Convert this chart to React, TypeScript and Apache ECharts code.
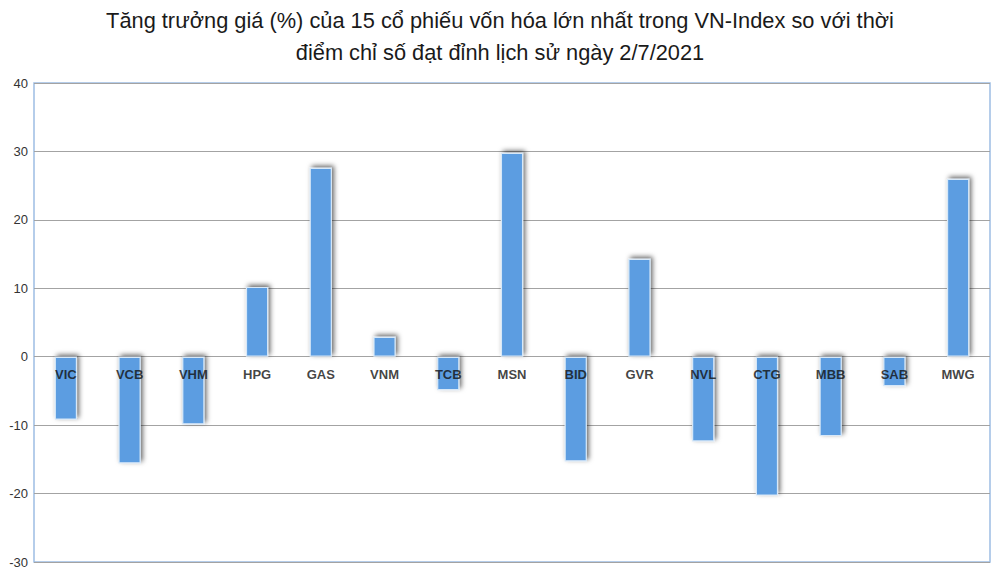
import React, { useEffect, useRef } from 'react';
import * as echarts from 'echarts';

const tickers = ['VIC', 'VCB', 'VHM', 'HPG', 'GAS', 'VNM', 'TCB', 'MSN', 'BID', 'GVR', 'NVL', 'CTG', 'MBB', 'SAB', 'MWG'];
const growth = [-9.2, -15.6, -9.9, 10.2, 27.6, 2.9, -4.9, 29.8, -15.3, 14.3, -12.4, -20.3, -11.6, -4.3, 26.0];
const labelBase = tickers.map(() => 0);
const titleLines = [
  'Tăng trưởng giá (%) của 15 cổ phiếu vốn hóa lớn nhất trong VN-Index so với thời',
  'điểm chỉ số đạt đỉnh lịch sử ngày 2/7/2021'
];

const App: React.FC = () => {
  const chartRef = useRef<HTMLDivElement>(null);

  useEffect(() => {
    if (!chartRef.current) return;
    const chart = echarts.init(chartRef.current, null, { renderer: 'svg' });

    const option: any = {
      animation: false,
      backgroundColor: '#ffffff',
      title: {
        text: titleLines.join('\n'),
        left: 'center',
        top: -1,
        textStyle: {
          fontFamily: 'Liberation Sans',
          fontSize: 21.8,
          fontWeight: 'normal',
          color: '#1a1a1a',
          lineHeight: 32
        }
      },
      grid: {
        left: 34,
        right: 10,
        top: 83,
        bottom: 12,
        outerBoundsMode: 'none',
        show: true,
        borderColor: '#9dbde3',
        borderWidth: 1.5
      },
      xAxis: {
        type: 'category',
        data: tickers,
        axisLine: { show: false },
        axisTick: { show: false },
        axisLabel: { show: false }
      },
      yAxis: {
        type: 'value',
        min: -30,
        max: 40,
        interval: 10,
        axisLine: { show: false },
        axisTick: { show: false },
        axisLabel: { color: '#333', fontSize: 13, fontFamily: 'Liberation Sans', margin: 6 },
        splitLine: { lineStyle: { color: '#a3a3a3', width: 1 } }
      },
      series: [
        {
          type: 'bar',
          data: growth,
          barWidth: '35%',
          itemStyle: {
            color: '#5b9de1',
            borderColor: '#d7e8f8',
            borderWidth: 1.2,
            shadowColor: 'rgba(0,0,0,0.6)',
            shadowBlur: 5,
            shadowOffsetX: 2,
            shadowOffsetY: -2
          }
        },
        {
          type: 'scatter',
          data: labelBase,
          symbolSize: 0,
          z: 10,
          silent: true,
          label: {
            show: true,
            position: 'bottom',
            distance: 11,
            formatter: (p: any) => tickers[p.dataIndex],
            color: '#111',
            fontWeight: 'bold',
            fontSize: 13,
            fontFamily: 'Liberation Sans'
          }
        }
      ]
    };

    chart.setOption(option);
    return () => {
      chart.dispose();
    };
  }, []);

  return (
    <div
      ref={chartRef}
      style={{ position: 'absolute', left: 0, top: 0, width: '1000px', height: '574px' }}
    />
  );
};

export default App;
